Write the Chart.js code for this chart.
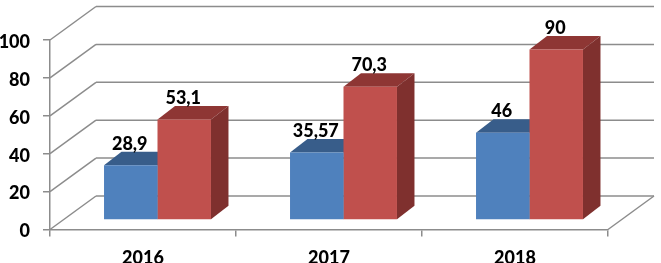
<!DOCTYPE html>
<html>
<head>
<meta charset="utf-8">
<style>
	html, body { margin: 0; padding: 0; background: #fff; overflow: hidden; }
	canvas { display: block; }
</style>
<script src="https://cdn.jsdelivr.net/npm/chart.js@4/dist/chart.umd.min.js"></script>
</head>
<body>
<canvas id="chart" width="661" height="263"></canvas>
<script>
const categories = ["2016", "2017", "2018"];
const blueValues = [28.9, 35.57, 46];
const redValues = [53.1, 70.3, 90];
const yTicks = [0, 20, 40, 60, 80, 100];

const gridColor = "#8c8c8c";
const labelFont = "900 18px Lato, Carlito, sans-serif";
const tickFont = { family: "Lato", size: 18, weight: "900" };

// wall depth of the fake 3d box, and where the bars stand inside it
const wallX = 46, wallY = -33.5;
const barX = 14.5, barY = -9.5;
const depthX = 17.5, depthY = -13.5;

const faces = [
	{ top: "#385d8a", side: "#2f4f76" },
	{ top: "#8e3634", side: "#7f302e" },
];

function line(ctx, x1, y1, x2, y2) {
	ctx.beginPath();
	ctx.moveTo(x1, y1);
	ctx.lineTo(x2, y2);
	ctx.stroke();
}

function poly(ctx, points, color) {
	ctx.fillStyle = color;
	ctx.beginPath();
	points.forEach(p => ctx.lineTo(p[0], p[1]));
	ctx.closePath();
	ctx.fill();
}

const box3d = {
	id: "box3d",
	beforeDatasetsDraw(chart) {
		const { ctx, chartArea, scales } = chart;
		ctx.save();
		ctx.strokeStyle = gridColor;
		ctx.lineWidth = 1.5;
		yTicks.forEach(tick => {
			const y = scales.y.getPixelForValue(tick);
			line(ctx, chartArea.left, y, chartArea.left + wallX, y + wallY);
			line(ctx, chartArea.left + wallX, y + wallY, chartArea.right + wallX, y + wallY);
		});
		line(ctx, chartArea.right, chartArea.bottom, chartArea.right + wallX, chartArea.bottom + wallY);

		// bars are shifted back from the front edge, library draws the front faces after this
		ctx.translate(barX, barY);
		chart.data.datasets.forEach((set, i) => {
			chart.getDatasetMeta(i).data.forEach(bar => {
				const left = bar.x - bar.width / 2;
				const right = bar.x + bar.width / 2;
				poly(ctx, [[left, bar.y], [right, bar.y], [right + depthX, bar.y + depthY], [left + depthX, bar.y + depthY]], faces[i].top);
				poly(ctx, [[right, bar.y], [right + depthX, bar.y + depthY], [right + depthX, bar.base + depthY], [right, bar.base]], faces[i].side);
			});
		});
		ctx.restore();
		ctx.save();
		ctx.translate(barX, barY);
	},
	afterDatasetsDraw(chart) {
		const ctx = chart.ctx;
		ctx.restore();
		ctx.save();
		ctx.font = labelFont;
		ctx.fillStyle = "#000";
		ctx.textAlign = "center";
		ctx.textBaseline = "alphabetic";
		chart.data.datasets.forEach((set, i) => {
			chart.getDatasetMeta(i).data.forEach((bar, j) => {
				const text = String(set.data[j]).replace(".", ",");
				ctx.fillText(text, bar.x + barX - 1, bar.y + barY + depthY - 2);
			});
		});
		ctx.restore();
	},
};

new Chart(document.getElementById("chart"), {
	type: "bar",
	data: {
		labels: categories,
		datasets: [
			{ data: blueValues, backgroundColor: "#4f81bd" },
			{ data: redValues, backgroundColor: "#c0504d" },
		],
	},
	options: {
		responsive: false,
		animation: false,
		categoryPercentage: 0.575,
		barPercentage: 1,
		layout: { padding: { top: 40, right: 53, left: 0, bottom: 0 } },
		plugins: { legend: { display: false }, tooltip: { enabled: false } },
		scales: {
			x: {
				afterFit: scale => { scale.height = 33.5; },
				grid: { drawOnChartArea: false, color: gridColor, tickLength: 7, lineWidth: 1.5 },
				border: { color: gridColor, width: 1.5 },
				ticks: { color: "#000", font: tickFont, padding: 11, maxRotation: 0 },
			},
			y: {
				min: 0,
				max: 100,
				afterFit: scale => { scale.width = 50; },
				afterBuildTicks: scale => { scale.ticks = yTicks.map(value => ({ value })); },
				grid: { drawOnChartArea: false, color: gridColor, tickLength: 7, lineWidth: 1.5 },
				border: { color: gridColor, width: 1.5 },
				ticks: { color: "#000", font: tickFont, padding: 13, labelOffset: 2 },
			},
		},
	},
	plugins: [box3d],
});
</script>
</body>
</html>
